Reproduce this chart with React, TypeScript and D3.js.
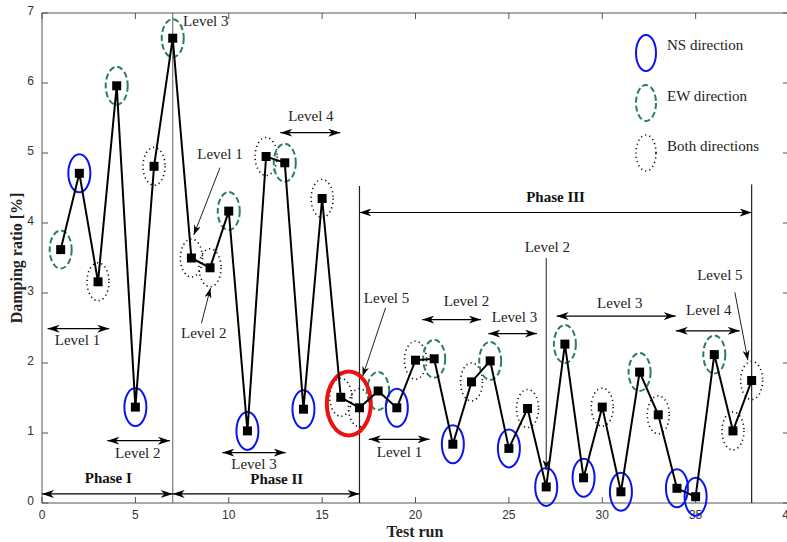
import React, { useEffect, useRef } from 'react';
import * as d3 from 'd3';

// test run number and damping ratio
const testRuns = [1, 2, 3, 4, 5, 6, 7, 8, 9, 10, 11, 12, 13, 14, 15, 16, 17, 18, 19,
  20, 21, 22, 23, 24, 25, 26, 27, 28, 29, 30, 31, 32, 33, 34, 35, 36, 37, 38];
const damping = [3.62, 4.71, 3.16, 5.96, 1.37, 4.81, 6.64, 3.50, 3.36, 4.17, 1.03, 4.95, 4.86,
  1.34, 4.35, 1.51, 1.36, 1.60, 1.36, 2.04, 2.06, 0.84, 1.73, 2.03, 0.78, 1.35, 0.23, 2.27,
  0.36, 1.37, 0.16, 1.87, 1.26, 0.21, 0.09, 2.12, 1.03, 1.75];
const direction = ['EW', 'NS', 'Both', 'EW', 'NS', 'Both', 'EW', 'Both', 'Both', 'EW', 'NS', 'Both',
  'EW', 'NS', 'Both', 'Both', 'Both', 'EW', 'NS', 'Both', 'EW', 'NS', 'Both', 'EW', 'NS', 'Both',
  'NS', 'EW', 'NS', 'Both', 'NS', 'EW', 'Both', 'NS', 'NS', 'EW', 'Both', 'Both'];

const xTicks = [0, 5, 10, 15, 20, 25, 30, 35, 40];
const yTicks = [0, 1, 2, 3, 4, 5, 6, 7];

const legendLabels = ['NS direction', 'EW direction', 'Both directions'];
const legendKeys = ['NS', 'EW', 'Both'];

// phases: [from, to, y, label, labelX, labelY]
const phases: [number, number, number, string, number, number][] = [
  [0, 7, 0.13, 'Phase I', 3.55, 0.29],
  [7, 17, 0.13, 'Phase II', 12.57, 0.27],
  [17, 38, 4.15, 'Phase III', 27.5, 4.3],
];
// phase boundary lines: [x, top]
const phaseLines: [number, number][] = [[7, 7], [17, 4.53], [38, 4.55]];

// level double arrows: [from, to, y, label, labelX, labelY]
const levelSpans: [number, number, number, string, number, number][] = [
  [0.3, 3.6, 2.49, 'Level 1', 1.9, 2.3],
  [3.5, 6.85, 0.89, 'Level 2', 5.13, 0.69],
  [9.66, 13.05, 0.72, 'Level 3', 11.35, 0.53],
  [12.76, 15.97, 5.29, 'Level 4', 14.4, 5.51],
  [17.5, 20.75, 0.91, 'Level 1', 19.14, 0.71],
  [20.36, 23.5, 2.62, 'Level 2', 22.73, 2.86],
  [23.9, 26.5, 2.42, 'Level 3', 25.3, 2.64],
  [27.56, 33.93, 2.67, 'Level 3', 30.94, 2.84],
  [33.94, 37.36, 2.46, 'Level 4', 35.7, 2.74],
];

// pointer labels: [label, labelX, labelY, x1, y1, x2, y2]
const pointers: [string, number, number, number, number, number, number][] = [
  ['Level 1', 9.53, 4.97, 9.53, 4.79, 8.13, 3.83],
  ['Level 2', 8.66, 2.41, 8.54, 2.57, 9.02, 3.07],
  ['Level 5', 18.45, 2.9, 18.4, 2.79, 17.17, 1.81],
  ['Level 2', 27.06, 3.63, 27, 3.5, 27, 0.47],
  ['Level 5', 36.3, 3.23, 37.1, 3.01, 37.8, 2.04],
];
// label without arrow
const plainLabels: [string, number, number][] = [['Level 3', 8.77, 6.86]];

const serif = '"Liberation Serif", "DejaVu Serif", serif';
const sans = '"Liberation Sans", Arial, sans-serif';

function ellipseStyle(sel: any, kind: string) {
  if (kind === 'NS') {
    sel.attr('stroke', '#0a14f0').attr('stroke-width', 2).attr('stroke-dasharray', null);
  } else if (kind === 'EW') {
    sel.attr('stroke', '#2a8055').attr('stroke-width', 2).attr('stroke-dasharray', '6,3');
  } else {
    sel.attr('stroke', '#111').attr('stroke-width', 1.6).attr('stroke-dasharray', '1.2,3.2');
  }
}

export default function App() {
  const ref = useRef<SVGSVGElement>(null);

  useEffect(() => {
    const width = 787, height = 542;
    const svg = d3.select(ref.current);
    svg.selectAll('*').remove();

    const x = d3.scaleLinear().domain([0, 40]).range([42, 789]);
    const y = d3.scaleLinear().domain([0, 7]).range([503, 13]);

    const defs = svg.append('defs');
    defs.append('marker')
      .attr('id', 'arr')
      .attr('viewBox', '0 0 12 8')
      .attr('refX', 12).attr('refY', 4)
      .attr('markerWidth', 12).attr('markerHeight', 8)
      .attr('markerUnits', 'userSpaceOnUse')
      .attr('orient', 'auto-start-reverse')
      .append('path').attr('d', 'M0,0 L12,4 L0,8 L3.5,4 Z').attr('fill', '#000');
    defs.append('marker')
      .attr('id', 'arrs')
      .attr('viewBox', '0 0 10 7')
      .attr('refX', 10).attr('refY', 3.5)
      .attr('markerWidth', 10).attr('markerHeight', 7)
      .attr('markerUnits', 'userSpaceOnUse')
      .attr('orient', 'auto-start-reverse')
      .append('path').attr('d', 'M0,0 L10,3.5 L0,7 L3,3.5 Z').attr('fill', '#000');

    // frame
    const axisColor = '#555';
    svg.append('line').attr('x1', x(0)).attr('x2', x(0)).attr('y1', y(0)).attr('y2', y(7))
      .attr('stroke', axisColor);
    svg.append('line').attr('x1', x(0)).attr('x2', x(40)).attr('y1', y(0)).attr('y2', y(0))
      .attr('stroke', axisColor);
    svg.append('line').attr('x1', x(0)).attr('x2', x(40)).attr('y1', y(7)).attr('y2', y(7))
      .attr('stroke', axisColor);
    svg.append('line').attr('x1', x(40)).attr('x2', x(40)).attr('y1', y(0)).attr('y2', y(7))
      .attr('stroke', axisColor);

    // x ticks, bottom and top, inward
    xTicks.forEach(t => {
      svg.append('line').attr('x1', x(t)).attr('x2', x(t)).attr('y1', y(0)).attr('y2', y(0) - 6)
        .attr('stroke', axisColor);
      svg.append('line').attr('x1', x(t)).attr('x2', x(t)).attr('y1', y(7)).attr('y2', y(7) + 6)
        .attr('stroke', axisColor);
      svg.append('text').attr('x', x(t)).attr('y', y(0) + 16).attr('text-anchor', 'middle')
        .attr('font-family', sans).attr('font-size', 12).attr('fill', '#333').text(t);
    });
    yTicks.forEach(t => {
      svg.append('line').attr('x1', x(0)).attr('x2', x(0) + 6).attr('y1', y(t)).attr('y2', y(t))
        .attr('stroke', axisColor);
      svg.append('line').attr('x1', x(40)).attr('x2', x(40) - 6).attr('y1', y(t)).attr('y2', y(t))
        .attr('stroke', axisColor);
      svg.append('text').attr('x', x(0) - 8).attr('y', y(t) - 1).attr('text-anchor', 'end')
        .attr('dominant-baseline', 'middle')
        .attr('font-family', sans).attr('font-size', 12).attr('fill', '#333').text(t);
    });

    // axis titles
    svg.append('text').attr('x', 415).attr('y', 537).attr('text-anchor', 'middle')
      .attr('font-family', serif).attr('font-size', 16).attr('font-weight', 'bold')
      .attr('fill', '#222').text('Test run');
    svg.append('text').attr('transform', 'translate(22,258) rotate(-90)').attr('text-anchor', 'middle')
      .attr('font-family', serif).attr('font-size', 16).attr('font-weight', 'bold')
      .attr('fill', '#222').text('Damping ratio [%]');

    // phase lines and arrows
    phaseLines.forEach(([px, top], i) => {
      svg.append('line').attr('x1', x(px)).attr('x2', x(px)).attr('y1', y(0)).attr('y2', y(top))
        .attr('stroke', i === 0 ? '#777' : '#222').attr('stroke-width', 1.2);
    });
    phases.forEach(([a, b, py, label, lx, ly]) => {
      svg.append('line').attr('x1', x(a)).attr('x2', x(b)).attr('y1', y(py)).attr('y2', y(py))
        .attr('stroke', '#000').attr('stroke-width', 1.2)
        .attr('marker-start', 'url(#arr)').attr('marker-end', 'url(#arr)');
      svg.append('text').attr('x', x(lx)).attr('y', y(ly)).attr('text-anchor', 'middle')
        .attr('font-family', serif).attr('font-size', 15).attr('font-weight', 'bold')
        .attr('fill', '#111').text(label);
    });

    levelSpans.forEach(([a, b, py, label, lx, ly]) => {
      svg.append('line').attr('x1', x(a)).attr('x2', x(b)).attr('y1', y(py)).attr('y2', y(py))
        .attr('stroke', '#000').attr('stroke-width', 1.2)
        .attr('marker-start', 'url(#arr)').attr('marker-end', 'url(#arr)');
      svg.append('text').attr('x', x(lx)).attr('y', y(ly)).attr('text-anchor', 'middle')
        .attr('dominant-baseline', 'middle')
        .attr('font-family', serif).attr('font-size', 15).attr('fill', '#222').text(label);
    });

    pointers.forEach(([label, lx, ly, x1, y1, x2, y2]) => {
      svg.append('line').attr('x1', x(x1)).attr('x2', x(x2)).attr('y1', y(y1)).attr('y2', y(y2))
        .attr('stroke', '#222').attr('stroke-width', 1).attr('marker-end', 'url(#arrs)');
      svg.append('text').attr('x', x(lx)).attr('y', y(ly)).attr('text-anchor', 'middle')
        .attr('dominant-baseline', 'middle')
        .attr('font-family', serif).attr('font-size', 15).attr('fill', '#222').text(label);
    });
    plainLabels.forEach(([label, lx, ly]) => {
      svg.append('text').attr('x', x(lx)).attr('y', y(ly)).attr('text-anchor', 'middle')
        .attr('dominant-baseline', 'middle')
        .attr('font-family', serif).attr('font-size', 15).attr('fill', '#222').text(label);
    });

    // ellipses around each point
    testRuns.forEach((r, i) => {
      const e = svg.append('ellipse').attr('cx', x(r)).attr('cy', y(damping[i]))
        .attr('rx', 11).attr('ry', 19).attr('fill', 'none');
      ellipseStyle(e, direction[i]);
    });

    // highlighted region
    svg.append('ellipse').attr('cx', x(16.43)).attr('cy', y(1.42)).attr('rx', 22).attr('ry', 32)
      .attr('fill', 'none').attr('stroke', '#ee1111').attr('stroke-width', 4);

    // data line and markers
    const line = d3.line<number>().x((d, i) => x(testRuns[i])).y(d => y(d));
    svg.append('path').datum(damping).attr('d', line).attr('fill', 'none')
      .attr('stroke', '#000').attr('stroke-width', 2);
    svg.append('g').selectAll('rect').data(damping).enter().append('rect')
      .attr('x', (d, i) => x(testRuns[i]) - 4.5).attr('y', d => y(d) - 4.5)
      .attr('width', 9).attr('height', 9).attr('fill', '#000');

    // legend
    legendKeys.forEach((k, i) => {
      const e = svg.append('ellipse').attr('cx', 646).attr('cy', 53 + i * 50)
        .attr('rx', 10).attr('ry', 18).attr('fill', 'none');
      ellipseStyle(e, k);
      svg.append('text').attr('x', 667).attr('y', 47 + i * 50.5).attr('dominant-baseline', 'middle')
        .attr('font-family', serif).attr('font-size', 15).attr('fill', '#222').text(legendLabels[i]);
    });

    svg.attr('width', width).attr('height', height);
  }, []);

  return (
    <svg ref={ref} width={787} height={542}
      style={{ position: 'absolute', left: 0, top: 0, background: '#fff', overflow: 'hidden' }} />
  );
}
